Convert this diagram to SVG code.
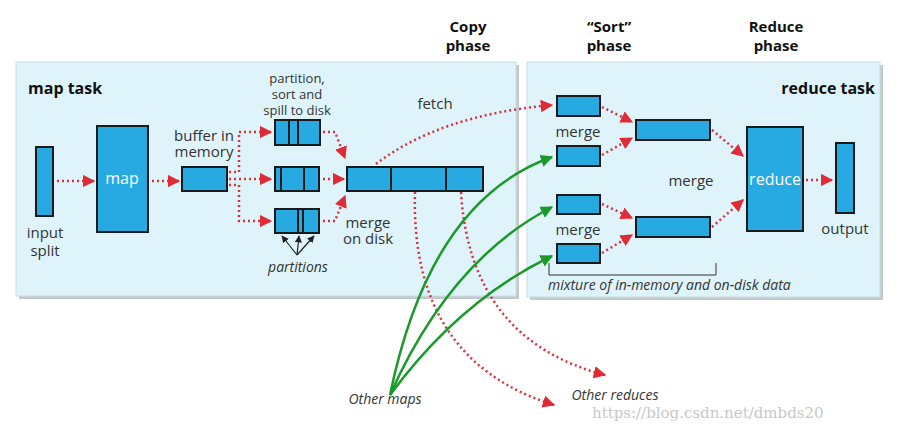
<svg xmlns="http://www.w3.org/2000/svg" width="898" height="430" viewBox="0 0 898 430">
<defs>
<style>
.panel{fill:#dff3fb;stroke:#c9dde6;stroke-width:1}
.shadow{fill:#9aa3a8;opacity:.6}
.box{fill:#27a9e1;stroke:#1a1a1a;stroke-width:2}
.div{stroke:#1a1a1a;stroke-width:2}
.t{font-family:"Open Sans","Liberation Sans",sans-serif;font-size:15px;fill:#333;text-anchor:middle}
.ts{font-family:"Open Sans","Liberation Sans",sans-serif;font-size:13px;fill:#333;text-anchor:middle}
.tb{font-family:"Open Sans","Liberation Sans",sans-serif;font-size:15px;font-weight:bold;fill:#111;text-anchor:middle}
.ti{font-family:"Open Sans","Liberation Sans",sans-serif;font-size:14px;font-style:italic;fill:#333;text-anchor:middle}
.tw{font-family:"Open Sans","Liberation Sans",sans-serif;font-size:16px;fill:#fff;text-anchor:middle}
.r{fill:none;stroke:#d9303a;stroke-width:2.5;stroke-dasharray:2 3;marker-end:url(#ra)}
.g{fill:none;stroke:#1a9a2a;stroke-width:2.5;marker-end:url(#ga)}
.k{fill:none;stroke:#222;stroke-width:1.2;marker-end:url(#ka)}
</style>
<marker id="ra" viewBox="0 0 10 10" refX="9" refY="5" markerWidth="5" markerHeight="5" markerUnits="strokeWidth" orient="auto"><path d="M0,0L10,5L0,10z" fill="#e02a35"/></marker>
<marker id="ga" viewBox="0 0 10 10" refX="9" refY="5" markerWidth="5" markerHeight="5" markerUnits="strokeWidth" orient="auto"><path d="M0,0L10,5L0,10z" fill="#1a9a2a"/></marker>
<marker id="ka" viewBox="0 0 10 10" refX="9" refY="5" markerWidth="6" markerHeight="6" markerUnits="strokeWidth" orient="auto"><path d="M0,0L10,5L0,10z" fill="#222"/></marker>
</defs>
<rect width="898" height="430" fill="#fff"/>
<g id="panels">
<rect class="shadow" x="19" y="65" width="500" height="234"/>
<rect class="panel" x="16" y="62" width="500" height="234"/>
<rect class="shadow" x="530" y="65" width="353" height="235"/>
<rect class="panel" x="527" y="62" width="353" height="235"/>
</g>
<g id="labels">
<text class="tb" x="468" y="32">Copy</text><text class="tb" x="468" y="51">phase</text>
<text class="tb" x="609" y="32">“Sort”</text><text class="tb" x="609" y="51">phase</text>
<text class="tb" x="776" y="32">Reduce</text><text class="tb" x="776" y="51">phase</text>
<text class="tb" x="28" y="94" style="text-anchor:start;font-size:16px">map task</text>
<text class="tb" x="875" y="94" style="text-anchor:end;font-size:16px">reduce task</text>
<text class="ts" x="297" y="83">partition,</text><text class="ts" x="297" y="99">sort and</text><text class="ts" x="297" y="115">spill to disk</text>
<text class="t" x="435" y="109">fetch</text>
<text class="t" x="368" y="228">merge</text><text class="t" x="368" y="244">on disk</text>
<text class="ti" x="298" y="272">partitions</text>
<text class="t" x="578" y="137">merge</text>
<text class="t" x="578" y="235">merge</text>
<text class="t" x="691" y="186">merge</text>
<text class="ti" x="548" y="290" style="text-anchor:start">mixture of in-memory and on-disk data</text>
<text class="ti" x="385" y="404">Other maps</text>
<text class="ti" x="615" y="400">Other reduces</text>
<text x="592" y="418" style="font-family:'DejaVu Serif',serif;font-size:15px;fill:#c8c8c8">https://blog.csdn.net/dmbds20</text>
</g>
<g id="input-split"><rect class="box" x="36" y="147" width="17" height="69"/><text class="t" x="45" y="238">input</text><text class="t" x="45" y="256">split</text></g>
<g id="map"><rect class="box" x="97" y="126" width="51" height="106"/><text class="tw" x="122" y="184">map</text></g>
<g id="buffer"><rect class="box" x="182" y="167" width="45" height="24"/><text class="t" x="204" y="141">buffer in</text><text class="t" x="204" y="157">memory</text></g>
<g id="spill1"><rect class="box" x="275" y="120" width="45" height="25"/><line class="div" x1="289" y1="120" x2="289" y2="145"/><line class="div" x1="298" y1="120" x2="298" y2="145"/></g>
<g id="spill2"><rect class="box" x="275" y="167" width="44" height="24"/><line class="div" x1="281" y1="167" x2="281" y2="191"/><line class="div" x1="304" y1="167" x2="304" y2="191"/></g>
<g id="spill3"><rect class="box" x="275" y="209" width="44" height="24"/><line class="div" x1="298" y1="209" x2="298" y2="233"/><line class="div" x1="303" y1="209" x2="303" y2="233"/></g>
<g id="merged"><rect class="box" x="347" y="167" width="136" height="24"/><line class="div" x1="391" y1="167" x2="391" y2="191"/><line class="div" x1="446" y1="167" x2="446" y2="191"/></g>
<g id="r1"><rect class="box" x="557" y="96" width="43" height="20"/></g>
<g id="r2"><rect class="box" x="557" y="146" width="43" height="20"/></g>
<g id="r3"><rect class="box" x="557" y="195" width="43" height="19"/></g>
<g id="r4"><rect class="box" x="557" y="244" width="43" height="19"/></g>
<g id="m1"><rect class="box" x="636" y="120" width="74" height="20"/></g>
<g id="m2"><rect class="box" x="636" y="217" width="74" height="20"/></g>
<g id="reduce"><rect class="box" x="747" y="127" width="56" height="104"/><text class="tw" x="775" y="185">reduce</text></g>
<g id="output"><rect class="box" x="836" y="143" width="18" height="70"/><text class="t" x="845" y="234">output</text></g>
<g id="connectors">
<path class="r" d="M57,181H94"/>
<path class="r" d="M152,181H179"/>
<path class="r" d="M229,172H239V132H271"/>
<path class="r" d="M229,179H271"/>
<path class="r" d="M229,185H239V221H271"/>
<path class="r" d="M323,132H335L345,158"/>
<path class="r" d="M323,179H344"/>
<path class="r" d="M323,221H335L345,196"/>
<path class="r" d="M376,164Q440,115 552,105"/>
<path class="r" d="M602,107L632,122"/>
<path class="r" d="M602,155L632,138"/>
<path class="r" d="M602,204L632,218"/>
<path class="r" d="M602,253L632,235"/>
<path class="r" d="M712,130L743,156"/>
<path class="r" d="M712,227L743,200"/>
<path class="r" d="M806,180H832"/>
<path class="r" d="M415,192Q410,360 554,405"/>
<path class="r" d="M461,192Q470,340 605,375"/>
<path class="g" d="M390,395Q430,200 552,157"/>
<path class="g" d="M390,395Q450,260 552,207"/>
<path class="g" d="M390,395Q460,300 552,256"/>
<path d="M549,263V275H716V263" fill="none" stroke="#333" stroke-width="1"/>
<path class="k" d="M297,255L282,236"/>
<path class="k" d="M297,255L299,236"/>
<path class="k" d="M297,255L314,236"/>
</g>
</svg>
